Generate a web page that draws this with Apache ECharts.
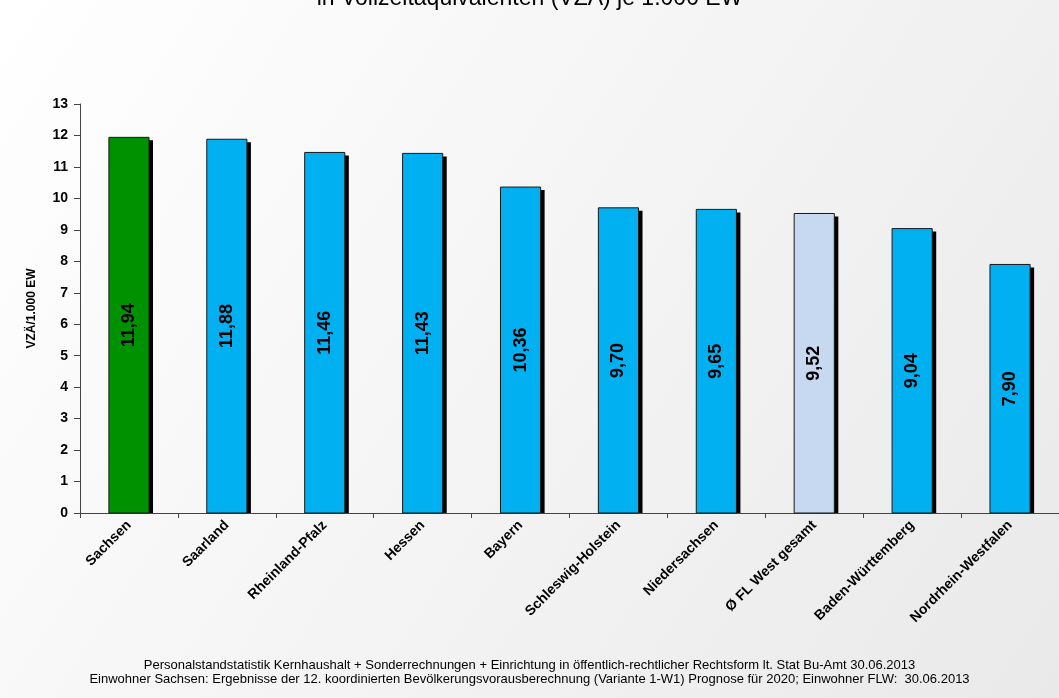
<!DOCTYPE html>
<html><head><meta charset="utf-8">
<script src="https://cdn.jsdelivr.net/npm/echarts@6/dist/echarts.min.js"></script>
<style>html,body{margin:0;padding:0;}#c{width:1059px;height:698px;}</style>
</head><body><div id="c"></div>
<script>
const categories = ["Sachsen","Saarland","Rheinland-Pfalz","Hessen","Bayern","Schleswig-Holstein","Niedersachsen","Ø FL West gesamt","Baden-Württemberg","Nordrhein-Westfalen"];
const values = [11.94, 11.88, 11.46, 11.43, 10.36, 9.70, 9.65, 9.52, 9.04, 7.90];
const barColors = ["#009100","#00b0f0","#00b0f0","#00b0f0","#00b0f0","#00b0f0","#00b0f0","#c6d9f1","#00b0f0","#00b0f0"];
const yTicks = {min:0, max:13, interval:1};
const titleText = "in Vollzeitäquivalenten (VZÄ) je 1.000 EW";
const footnote = "Personalstandstatistik Kernhaushalt + Sonderrechnungen + Einrichtung in öffentlich-rechtlicher Rechtsform lt. Stat Bu-Amt 30.06.2013\nEinwohner Sachsen: Ergebnisse der 12. koordinierten Bevölkerungsvorausberechnung (Variante 1-W1) Prognose für 2020; Einwohner FLW:  30.06.2013";

const FONT = 'Liberation Sans, Arial, sans-serif';
const chart = echarts.init(document.getElementById('c'));
chart.setOption({
  animation:false,
  backgroundColor:{type:'linear',x:0,y:0,x2:1,y2:1,colorStops:[{offset:0,color:'#ffffff'},{offset:1,color:'#e9e9e9'}]},
  title:[
    {text:titleText,left:'center',top:-18,textStyle:{fontFamily:FONT,fontSize:23,fontWeight:'normal',color:'#000'}},
    {text:footnote,left:'center',top:653,textStyle:{fontFamily:FONT,fontSize:13,fontWeight:'normal',color:'#000',lineHeight:14,align:'center'}}
  ],
  grid:{left:80,right:0,top:104,bottom:185},
  xAxis:{type:'category',data:categories,
    axisLine:{lineStyle:{color:'#444',width:1}},
    axisTick:{show:true,alignWithLabel:false,length:5,lineStyle:{color:'#444'}},
    axisLabel:{rotate:45,interval:0,fontFamily:FONT,fontWeight:'bold',fontSize:14,color:'#000',margin:10}},
  yAxis:{type:'value',min:yTicks.min,max:yTicks.max,interval:yTicks.interval,
    name:'VZÄ/1.000 EW',nameLocation:'middle',nameGap:42,
    nameTextStyle:{fontFamily:FONT,fontWeight:'bold',fontSize:12,color:'#000'},
    splitLine:{show:false},
    axisLine:{show:true,lineStyle:{color:'#444',width:1}},
    axisTick:{show:true,length:6,lineStyle:{color:'#444'}},
    axisLabel:{fontFamily:FONT,fontWeight:'bold',fontSize:14,color:'#000',margin:12}},
  series:[{type:'custom',
    data:values.map((v,i)=>[i,v]),
    encode:{x:0,y:1},
    renderItem:function(params, api){
      const idx = api.value(0), v = api.value(1);
      const top = api.coord([idx, v]);
      const base = api.coord([idx, 0]);
      const w = api.size([1,0])[0]*0.41;
      const x0 = top[0]-w/2;
      const h = base[1]-top[1];
      return {type:'group',children:[
        {type:'rect',shape:{x:x0+4,y:top[1]+3,width:w,height:h-3},style:{fill:'#000'}},
        {type:'rect',shape:{x:x0,y:top[1],width:w,height:h},style:{fill:barColors[params.dataIndex],stroke:'#1a1a1a',lineWidth:1}},
        {type:'text',x:top[0],y:top[1]+h/2,rotation:Math.PI/2,
          style:{text:v.toFixed(2).replace('.',','),align:'center',verticalAlign:'middle',font:'bold 18px '+FONT,fill:'#000'}}
      ]};
    }
  }]
});
</script></body></html>
